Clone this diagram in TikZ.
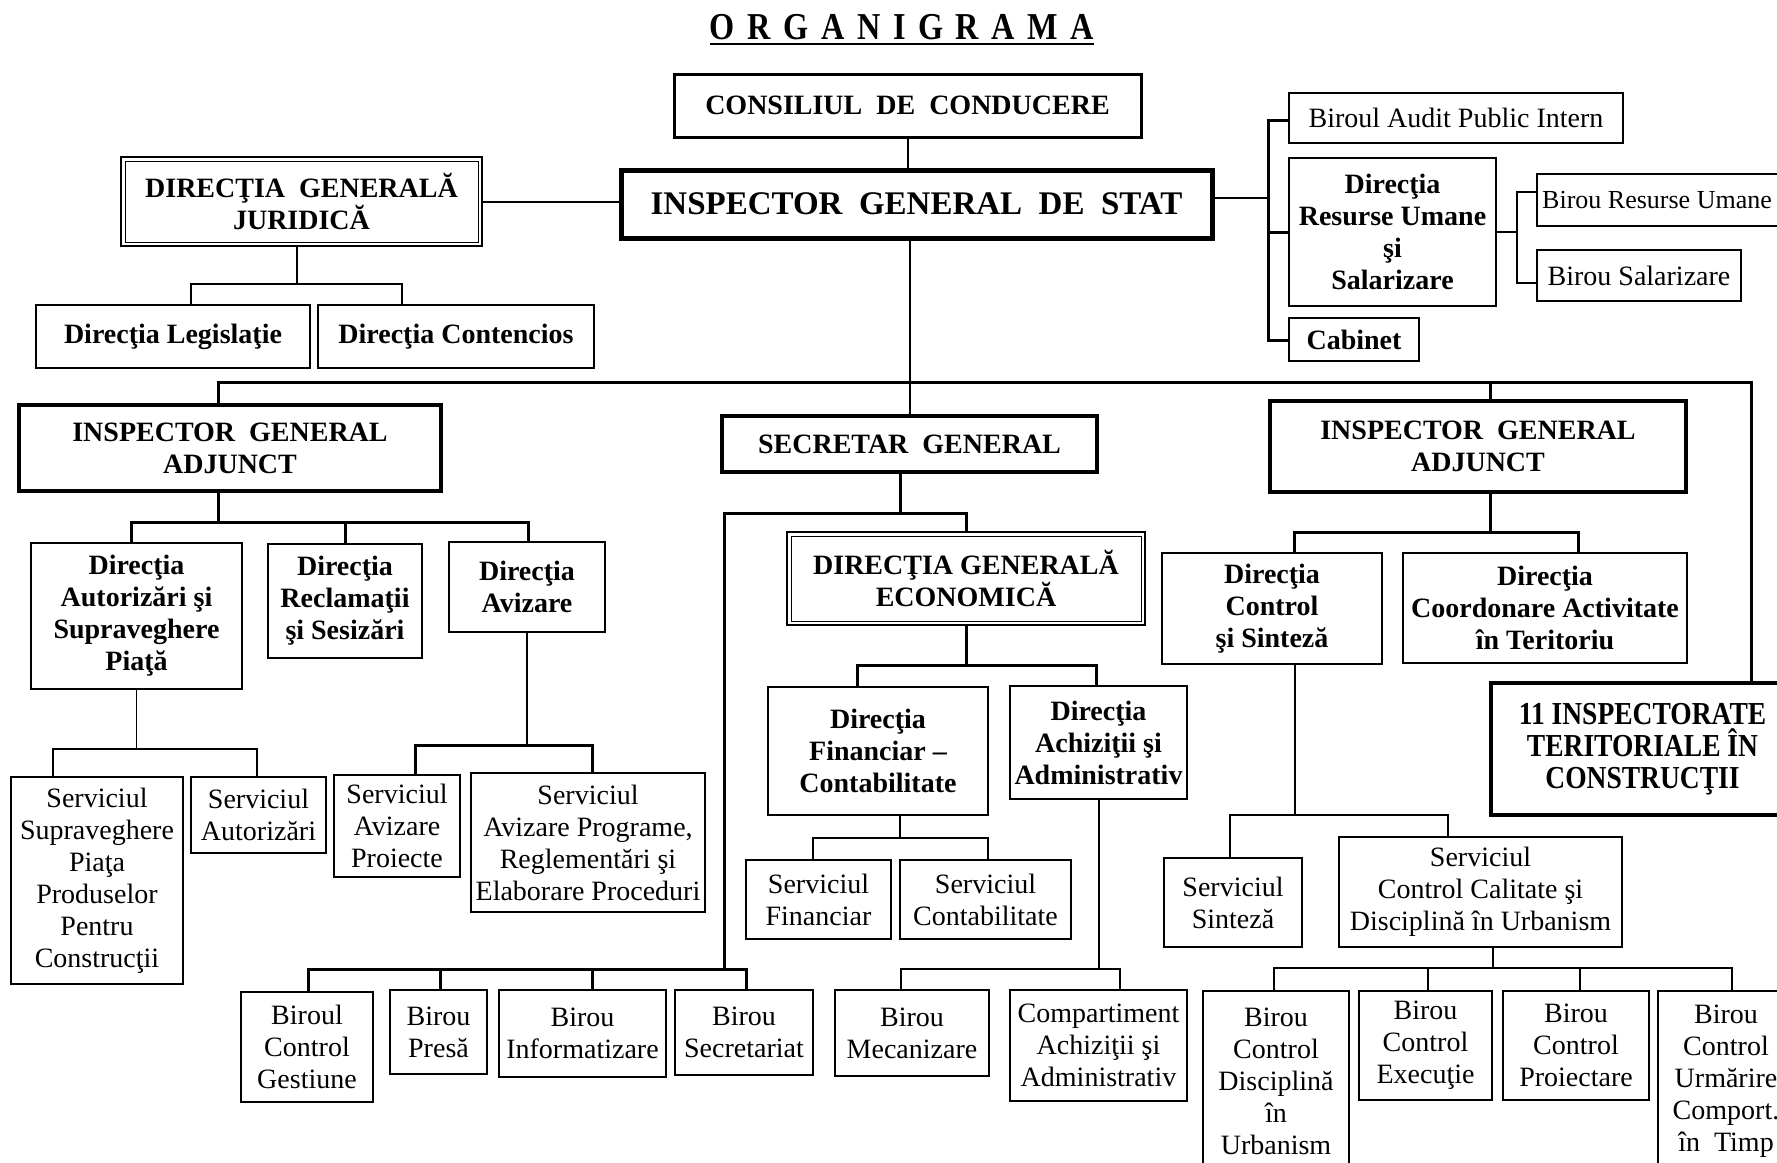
\documentclass[tikz,border=0pt]{standalone}
\usepackage{fontspec}
\setmainfont{Liberation Serif}
\newfontfamily\condfont{Liberation Serif}[FakeStretch=0.86]
\newfontfamily\titlefont{Liberation Serif}[FakeStretch=0.85]
\newcommand\wsp{\hspace{0.5em}}
\newcommand\lsp{\hspace{6.3pt}}
\newcommand\obx[7]{%
 \pgfmathsetmacro\bxw{((#5)-(#3))*0.5}%
 \pgfmathsetmacro\bxh{((#6)-(#4))*0.5}%
 \pgfmathsetmacro\bxx{((#3)+(#5))/2}%
 \pgfmathsetmacro\bxy{((#4)+(#6))/2}%
 \node[#1, minimum width=\bxw pt, minimum height=\bxh pt] (#2) at (\bxx,\bxy) {#7};}
\begin{document}
\begin{tikzpicture}[x=0.5pt, y=-0.5pt,
 every node/.style={inner sep=0pt, outer sep=0pt, align=center},
 b0/.style={draw, line width=1.5pt, font=\bfseries\fontsize{14}{16}\selectfont},
 bigbox/.style={draw, line width=2.5pt, font=\bfseries\fontsize{16.5}{19}\selectfont},
 hbox/.style={draw, line width=2pt, font=\bfseries\fontsize{14}{16}\selectfont},
 condbox/.style={draw, line width=2pt, font=\condfont\bfseries\fontsize{16}{16}\selectfont},
 dblbox/.style={draw, line width=1pt, font=\bfseries\fontsize{14}{16}\selectfont},
 dbox/.style={draw, line width=1pt, font=\bfseries\fontsize{14}{16}\selectfont},
 sbox/.style={draw, line width=0.8pt, font=\fontsize{14}{16}\selectfont},
 bus/.style={line width=1.5pt},
 conn/.style={line width=1pt},
 fine/.style={line width=0.7pt},
 inner/.style={line width=0.5pt}]
\clip (0,0) rectangle (1777,1162);
\fill[white] (0,0) rectangle (1777,1162);

% title
\node[font=\titlefont\bfseries\fontsize{19}{21}\selectfont, anchor=base] (title) at (902,39)
 {O\lsp R\lsp G\lsp A\lsp N\lsp I\lsp G\lsp R\lsp A\lsp M\lsp A};
\draw[line width=1pt] ([yshift=-2.5pt]title.base west) -- ([yshift=-2.5pt]title.base east);

% boxes
\obx{b0}{cons}{674}{74}{1141}{137}{CONSILIUL\wsp DE\wsp CONDUCERE}
\obx{bigbox}{igs}{621}{170}{1212}{238}{INSPECTOR\wsp GENERAL\wsp DE\wsp STAT}
\obx{dblbox}{dgj}{121}{157}{482}{246}{DIRECŢIA\wsp GENERALĂ\\JURIDICĂ}
\obx{dbox}{leg}{36}{305}{310}{368}{Direcţia Legislaţie}
\obx{dbox}{cont}{318}{305}{594}{368}{Direcţia Contencios}
\obx{sbox}{audit}{1289}{93}{1623}{143}{Biroul Audit Public Intern}
\obx{dbox}{dru}{1289}{158}{1496}{306}{Direcţia\\Resurse Umane\\şi\\Salarizare}
\obx{dbox}{cab}{1289}{318}{1419}{361}{Cabinet}
\obx{sbox}{bru}{1537}{174}{1797}{226}{\fontsize{13}{16}\selectfont Birou Resurse Umane\hspace*{10pt}}
\obx{sbox}{bsal}{1537}{250}{1741}{301}{Birou Salarizare}
\obx{hbox}{igaL}{19}{405}{441}{491}{INSPECTOR\wsp GENERAL\\ADJUNCT}
\obx{hbox}{sg}{722}{416}{1097}{472}{SECRETAR\wsp GENERAL}
\obx{hbox}{igaR}{1270}{401}{1686}{492}{INSPECTOR\wsp GENERAL\\ADJUNCT}
\obx{dbox}{dautor}{31}{543}{242}{689}{Direcţia\\Autorizări şi\\Supraveghere\\Piaţă}
\obx{dbox}{drecl}{268}{544}{422}{658}{Direcţia\\Reclamaţii\\şi Sesizări}
\obx{dbox}{daviz}{449}{542}{605}{632}{Direcţia\\Avizare}
\obx{sbox}{ssp}{11}{777}{183}{984}{Serviciul\\Supraveghere\\Piaţa\\Produselor\\Pentru\\Construcţii}
\obx{sbox}{saut}{191}{777}{326}{853}{Serviciul\\Autorizări}
\obx{sbox}{savp}{334}{775}{460}{877}{Serviciul\\Avizare\\Proiecte}
\obx{sbox}{savpr}{471}{773}{705}{912}{Serviciul\\Avizare Programe,\\Reglementări şi\\Elaborare Proceduri}
\obx{dblbox}{dge}{787}{532}{1145}{625}{DIRECŢIA GENERALĂ\\ECONOMICĂ}
\obx{dbox}{dfin}{768}{687}{988}{815}{Direcţia\\Financiar –\\Contabilitate}
\obx{dbox}{dach}{1010}{686}{1187}{799}{Direcţia\\Achiziţii şi\\Administrativ}
\obx{sbox}{sfin}{746}{860}{891}{939}{Serviciul\\Financiar}
\obx{sbox}{scont}{900}{860}{1071}{939}{Serviciul\\Contabilitate}
\obx{sbox}{bcg}{241}{992}{373}{1102}{Biroul\\Control\\Gestiune}
\obx{sbox}{bpresa}{390}{990}{487}{1074}{Birou\\Presă}
\obx{sbox}{binf}{499}{990}{666}{1077}{Birou\\Informatizare}
\obx{sbox}{bsecr}{675}{990}{813}{1075}{Birou\\Secretariat}
\obx{sbox}{bmec}{835}{990}{989}{1076}{Birou\\Mecanizare}
\obx{sbox}{comp}{1010}{990}{1187}{1101}{Compartiment\\Achiziţii şi\\Administrativ}
\obx{dbox}{dcs}{1162}{553}{1382}{664}{Direcţia\\Control\\şi Sinteză}
\obx{dbox}{dcat}{1403}{553}{1687}{663}{Direcţia\\Coordonare Activitate\\în Teritoriu}
\obx{condbox}{insp}{1491}{683}{1794}{815}{11 INSPECTORATE\\TERITORIALE ÎN\\CONSTRUCŢII}
\obx{sbox}{ssint}{1164}{858}{1302}{947}{Serviciul\\Sinteză}
\obx{sbox}{sccdu}{1339}{837}{1622}{947}{Serviciul\\Control Calitate şi\\Disciplină în Urbanism}
\obx{sbox}{bcd}{1203}{991}{1349}{1172}{Birou\\Control\\Disciplină\\în\\Urbanism}
\obx{sbox}{bce}{1359}{991}{1492}{1100}{Birou\\Control\\Execuţie}
\obx{sbox}{bcp}{1503}{991}{1649}{1100}{Birou\\Control\\Proiectare}
\obx{sbox}{bcu}{1658}{991}{1794}{1172}{Birou\\Control\\Urmărire\\Comport.\\în\wsp Timp}

% double borders
\draw[inner] ([shift={(4,4)}]dgj.north west) rectangle ([shift={(-4,-4)}]dgj.south east);
\draw[inner] ([shift={(4,4)}]dge.north west) rectangle ([shift={(-4,-4)}]dge.south east);

% junction coordinates
\coordinate (igsR) at (1268,198);
\coordinate (rbT) at (1268,120);
\coordinate (rbB) at (1268,340);
\coordinate (dT) at (1517,192);
\coordinate (dB) at (1517,283);
\coordinate (gj) at (297,284);
\coordinate (gjL) at (191,284);
\coordinate (gjR) at (402,284);
\coordinate (bL) at (218,382);
\coordinate (bR) at (1751,382);
\coordinate (bRI) at (1490,382);
\coordinate (aL) at (131,522);
\coordinate (aR) at (528,522);
\coordinate (aM) at (218,522);
\coordinate (pL) at (53,749);
\coordinate (pR) at (257,749);
\coordinate (vL) at (415,745);
\coordinate (vR) at (592,745);
\coordinate (sL) at (724,513);
\coordinate (sR) at (966,513);
\coordinate (sM) at (900,513);
\coordinate (sB) at (724,969);
\coordinate (b1) at (308,969);
\coordinate (b2) at (440,969);
\coordinate (b3) at (592,969);
\coordinate (b4) at (746,969);
\coordinate (eL) at (857,665);
\coordinate (eR) at (1096,665);
\coordinate (fL) at (813,838);
\coordinate (fR) at (988,838);
\coordinate (fM) at (900,838);
\coordinate (hL) at (901,969);
\coordinate (hR) at (1120,969);
\coordinate (rL) at (1294,532);
\coordinate (rR) at (1578,532);
\coordinate (rM) at (1490,532);
\coordinate (cL) at (1230,815);
\coordinate (cR) at (1448,815);
\coordinate (cM) at (1295,815);
\coordinate (uM) at (1493,968);
\coordinate (u1) at (1274,968);
\coordinate (u2) at (1428,968);
\coordinate (u3) at (1580,968);
\coordinate (u4) at (1732,968);

% connectors
\draw[conn] (cons.south) -- (cons.south |- igs.north);
\draw[conn] (dgj.east) -- (dgj.east -| igs.west);
\draw[conn] (igs.east |- igsR) -- (igsR);
\draw[bus] (audit.west |- rbT) -| (rbB) -- (cab.west |- rbB);
\draw[bus] (dru.west) -- (dru.west -| rbT);
\draw[conn] (dru.east) -- (dru.east -| dT);
\draw[conn] (bru.west |- dT) -- (dT) -- (dB) -- (bsal.west |- dB);
\draw[conn] (gj |- dgj.south) -- (gj);
\draw[conn] (leg.north -| gjL) -- (gjL) -- (gjR) -- (cont.north -| gjR);
\draw[bus] (igaL.north -| bL) -- (bL) -- (bR) -- (insp.north -| bR);
\draw[conn] (sg.north |- igs.south) -- (sg.north);
\draw[bus] (bRI) -- (igaR.north -| bRI);
\draw[bus] (igaL.south -| aM) -- (aM);
\draw[bus] (dautor.north -| aL) -- (aL) -- (aR) -- (daviz.north -| aR);
\draw[bus] (drecl.north) -- (drecl.north |- aL);
\draw[fine] (dautor.south) -- (dautor.south |- pL);
\draw[fine] (ssp.north -| pL) -- (pL) -- (pR) -- (saut.north -| pR);
\draw[fine] (daviz.south) -- (daviz.south |- vL);
\draw[bus] (savp.north -| vL) -- (vL) -- (vR) -- (savpr.north -| vR);
\draw[bus] (sg.south -| sM) -- (sM);
\draw[bus] (sB) -- (sL) -- (sR) -- (dge.north -| sR);
\draw[bus] (bcg.north -| b1) -- (b1) -- (b4) -- (bsecr.north -| b4);
\draw[bus] (b2) -- (bpresa.north -| b2);
\draw[bus] (b3) -- (binf.north -| b3);
\draw[bus] (dge.south) -- (dge.south |- eL);
\draw[bus] (dfin.north -| eL) -- (eL) -- (eR) -- (dach.north -| eR);
\draw[fine] (dfin.south -| fM) -- (fM);
\draw[fine] (sfin.north -| fL) -- (fL) -- (fR) -- (scont.north -| fR);
\draw[conn] (dach.south) -- (dach.south |- hR);
\draw[conn] (bmec.north -| hL) -- (hL) -- (hR) -- (comp.north -| hR);
\draw[bus] (igaR.south -| rM) -- (rM);
\draw[bus] (dcs.north -| rL) -- (rL) -- (rR) -- (dcat.north -| rR);
\draw[fine] (dcs.south -| cM) -- (cM);
\draw[fine] (ssint.north -| cL) -- (cL) -- (cR) -- (sccdu.north -| cR);
\draw[fine] (sccdu.south -| uM) -- (uM);
\draw[conn] (bcd.north -| u1) -- (u1) -- (u4) -- (bcu.north -| u4);
\draw[conn] (u2) -- (bce.north -| u2);
\draw[conn] (u3) -- (bcp.north -| u3);
\end{tikzpicture}
\end{document}
